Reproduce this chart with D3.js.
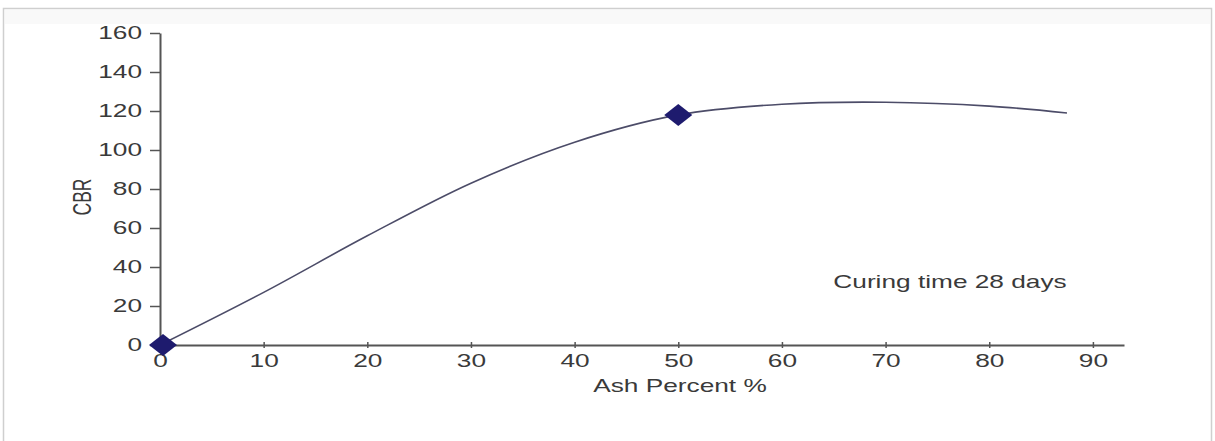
<!DOCTYPE html>
<html>
<head>
<meta charset="utf-8">
<script src="https://cdn.jsdelivr.net/npm/d3@7"></script>
<style>
  html, body { margin: 0; padding: 0; background: #fff; }
  svg { display: block; }
  text { font-family: "Liberation Sans", Arial, sans-serif; fill: #3a3a3a; }
</style>
</head>
<body>
<svg id="chart" width="1215" height="441"></svg>
<script>
// ---- data ----
const ashPercent = [0, 10, 20, 30, 40, 50, 60, 70, 80, 87.5];
const cbrValues  = [0, 27, 56, 83, 104, 118, 123.5, 124.5, 122.5, 119];
const markerAsh  = [0, 50];
const markerCbr  = [0, 118];
const xTicks = [0, 10, 20, 30, 40, 50, 60, 70, 80, 90];
const yTicks = [0, 20, 40, 60, 80, 100, 120, 140, 160];
const xTitle = "Ash Percent %";
const yTitle = "CBR";
const note = "Curing time 28 days";

// ---- layout ----
const SX = 1.5; // horizontal stretch of the text in the reference
const svg = d3.select("#chart");

// outer frame
svg.append("rect").attr("x", 3.5).attr("y", 8.5).attr("width", 1208).attr("height", 440)
  .attr("fill", "#fff").attr("stroke", "#cfcfcf").attr("stroke-width", 1.5);
svg.append("rect").attr("x", 5).attr("y", 10).attr("width", 1205).attr("height", 14)
  .attr("fill", "#f9f9f9");

const x = d3.scaleLinear().domain([0, 93]).range([160, 1124]);
const y = d3.scaleLinear().domain([0, 160]).range([345, 33]);

const axisColor = "#555";

// y axis
const gy = svg.append("g").attr("transform", `translate(${x(0)},0)`)
  .call(d3.axisLeft(y).tickValues(yTicks).tickSizeInner(10).tickSizeOuter(0).tickFormat(d3.format("d")));
gy.select(".domain").attr("stroke", axisColor).attr("stroke-width", 2);
gy.selectAll(".tick line").attr("stroke", axisColor).attr("stroke-width", 1.5);
gy.selectAll(".tick text")
  .attr("x", -18 / SX).attr("transform", `scale(${SX},1)`)
  .style("font-size", "17.5px").attr("fill", "#3a3a3a");

// x axis
const gx = svg.append("g").attr("transform", `translate(0,${y(0)})`)
  .call(d3.axisBottom(x).tickValues(xTicks).tickSizeInner(3).tickSizeOuter(0).tickFormat(d3.format("d")));
gx.select(".domain").attr("stroke", axisColor).attr("stroke-width", 2);
gx.selectAll(".tick line").attr("y1", -3).attr("y2", 3).attr("stroke", axisColor).attr("stroke-width", 1.5);
gx.selectAll(".tick text")
  .attr("y", 10).attr("transform", `scale(${SX},1)`)
  .style("font-size", "17.5px").attr("fill", "#3a3a3a");

// curve
const pts = ashPercent.map((a, i) => [a, cbrValues[i]]);
const line = d3.line().x(d => x(d[0])).y(d => y(d[1])).curve(d3.curveCatmullRom.alpha(0.5));
svg.append("path").datum(pts).attr("d", line)
  .attr("fill", "none").attr("stroke", "#4c4c68").attr("stroke-width", 1.6);

// diamond markers
const mk = markerAsh.map((a, i) => [a, markerCbr[i]]);
svg.selectAll("path.mk").data(mk).enter().append("path").attr("class", "mk")
  .attr("transform", d => `translate(${x(d[0]) + (d[0] === 0 ? 3 : 0)},${y(d[1])})`)
  .attr("d", "M-14,0 L0,-11 L14,0 L0,11 Z")
  .attr("fill", "#1e1b6e");

// titles
svg.append("text").attr("transform", `translate(680,392) scale(${SX},1)`)
  .attr("text-anchor", "middle").style("font-size", "17.5px").text(xTitle);
svg.append("text").attr("transform", `translate(91,197) scale(${SX},1) rotate(-90)`)
  .attr("text-anchor", "middle").style("font-size", "17.5px").text(yTitle);
svg.append("text").attr("transform", `translate(950,288) scale(${SX},1)`)
  .attr("text-anchor", "middle").style("font-size", "17.5px").text(note);
</script>
</body>
</html>
